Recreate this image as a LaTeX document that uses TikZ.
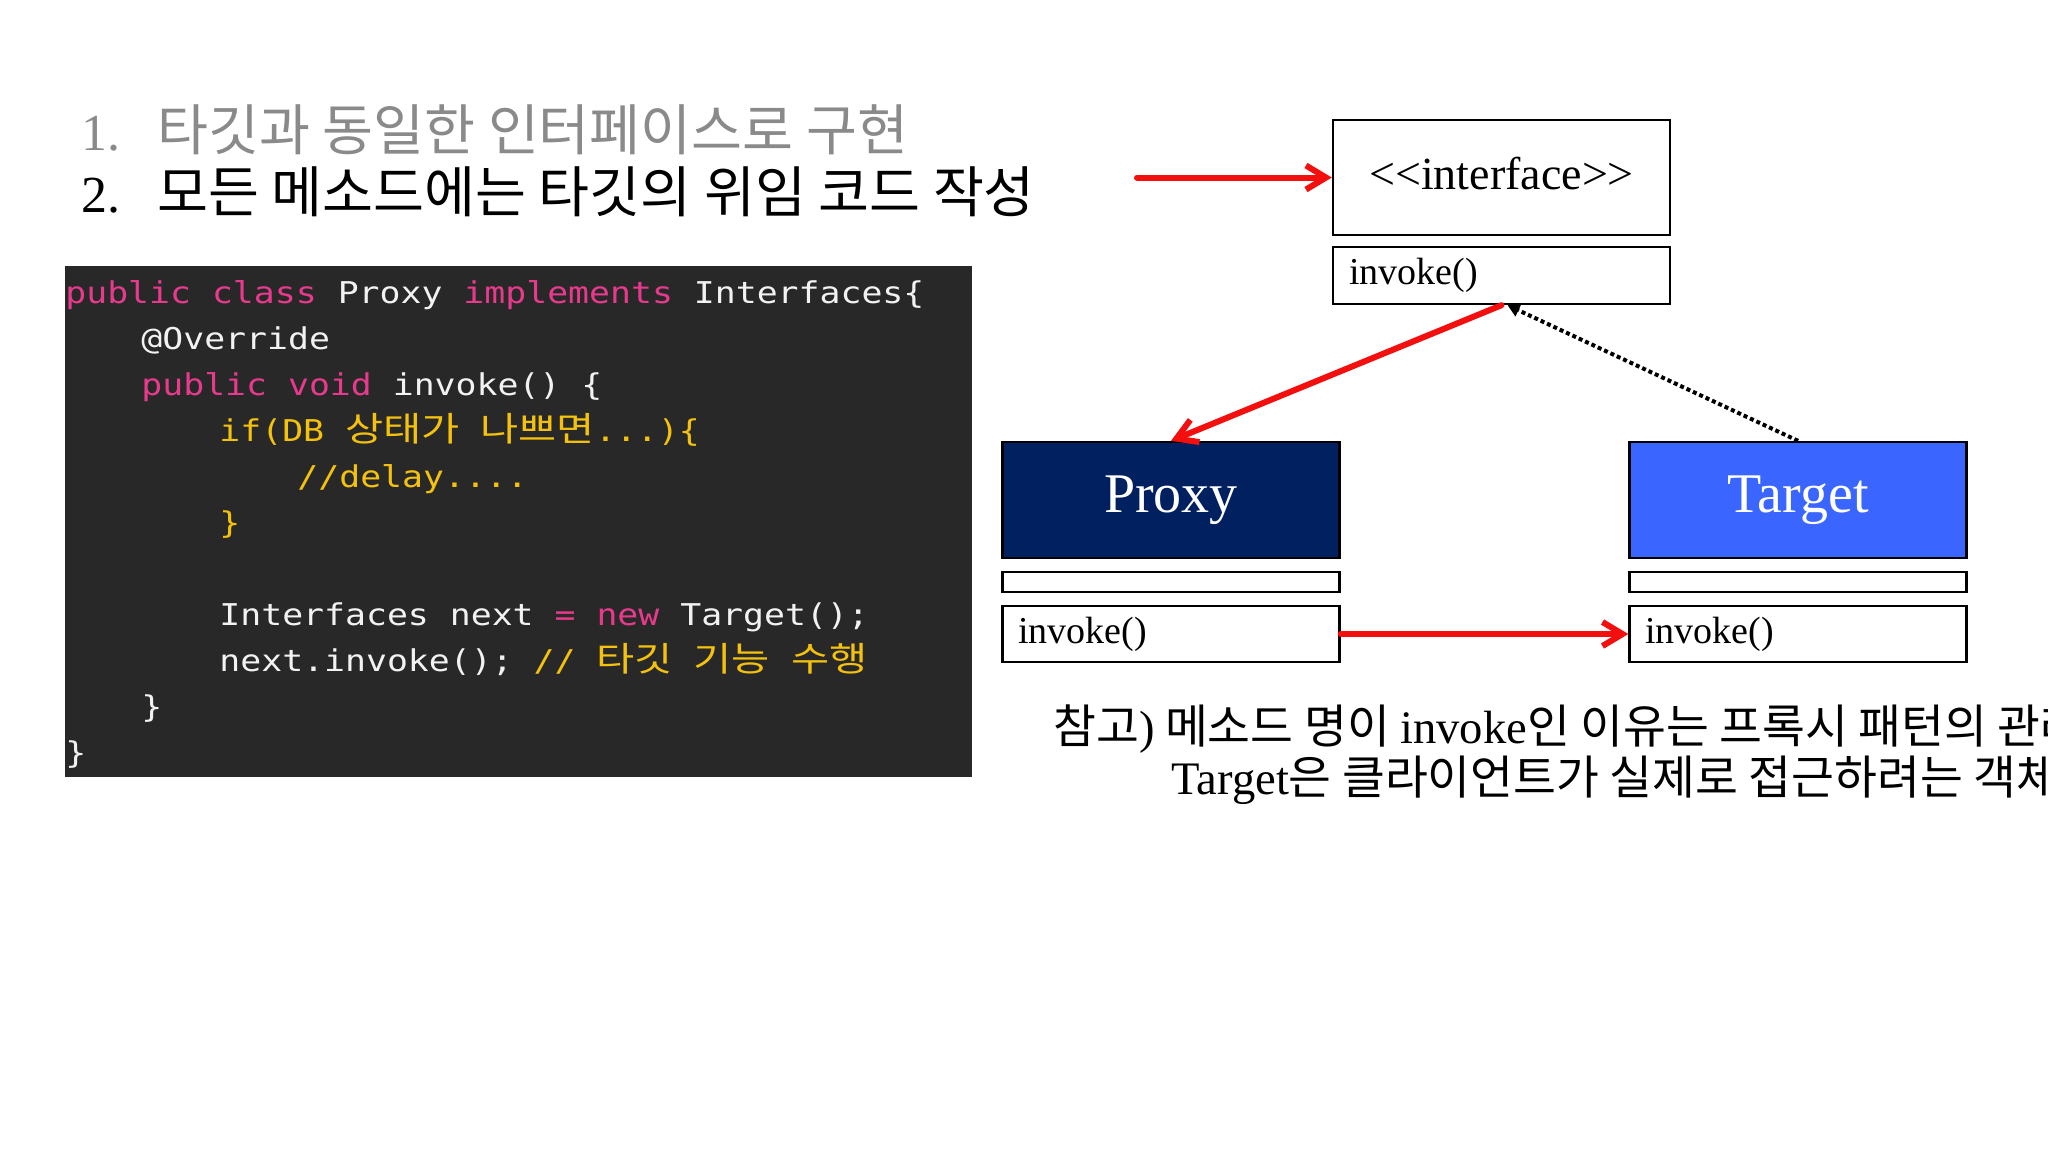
\documentclass[tikz,border=0pt]{standalone}
\usepackage{fontspec}
\setmainfont{Liberation Serif}
\newfontfamily\krfont{Noto Sans CJK KR}
\newfontfamily\codefont[FakeStretch=1.16]{DejaVu Sans Mono}
\newfontfamily\codekrfont[FakeStretch=1.22]{Noto Sans CJK KR}
\usetikzlibrary{arrows.meta}
\definecolor{codebg}{HTML}{282828}
\definecolor{codepink}{HTML}{E83A8D}
\definecolor{codeyellow}{HTML}{F4C20D}
\definecolor{codewhite}{HTML}{F2F2F2}
\definecolor{hdrgray}{HTML}{8A8A8A}
\definecolor{proxyblue}{HTML}{002060}
\definecolor{targetblue}{HTML}{3A66FF}
\definecolor{arrowred}{HTML}{F40F0F}
\newcommand\kwp[1]{\textcolor{codepink}{#1}}
\newcommand\ckr[1]{{\codekrfont\fontsize{17pt}{20pt}\selectfont #1}}
\begin{document}
\begin{tikzpicture}[x=0.5pt,y=-0.5pt,
  hdr/.style={anchor=base west, inner sep=0pt, font=\fontsize{26pt}{30pt}\selectfont},
  hdrkr/.style={anchor=base west, inner sep=0pt, font=\krfont\fontsize{27.7pt}{32pt}\selectfont},
  codeline/.style={anchor=base west, inner sep=0pt, text=codewhite, font=\codefont\fontsize{15pt}{18pt}\selectfont},
  umlbox/.style={draw=black, line width=1.2pt, fill=white, inner sep=0pt, minimum width=168.5pt},
  methlbl/.style={anchor=west, inner sep=0pt, font=\fontsize{19pt}{22pt}\selectfont},
  classlbl/.style={inner sep=0pt, text=white, font=\fontsize{28pt}{32pt}\selectfont},
  notekr/.style={anchor=base west, inner sep=0pt, font=\krfont\fontsize{23.3pt}{27pt}\selectfont},
  redarrow/.style={draw=arrowred, line width=3pt, line cap=round, line join=round, -{Straight Barb[length=10pt,width=12pt]}},
  dotarrow/.style={draw=black, line width=2pt, dash pattern=on 2pt off 1.5pt, -{Triangle[length=6pt,width=6.5pt]}}
]
\useasboundingbox (0,0) rectangle (2048,1152);
\fill[white] (0,0) rectangle (2048,1152);
\begin{scope}
\clip (0,0) rectangle (2048,1152);

% header
\node[hdr, text=hdrgray] (n1) at (81,150) {1.};
\node[hdrkr, text=hdrgray] (t1) at (157,150) {타깃과 동일한 인터페이스로 구현};
\node[hdr] (n2) at (81,212) {2.};
\node[hdrkr] (t2) at (157,212) {모든 메소드에는 타깃의 위임 코드 작성};

% code box
\node[fill=codebg, minimum width=453.5pt, minimum height=255.5pt, inner sep=0pt] (codebox) at (518.5,521.5) {};
\node[codeline] (c1) at (65,303) {\kwp{public class} Proxy \kwp{implements} Interfaces\{};
\node[codeline] (c2) at (141,349) {@Override};
\node[codeline] (c3) at (141,395) {\kwp{public void} invoke() \{};
\node[codeline, text=codeyellow] (c4) at (219,441) {if(DB \ckr{상태가} \ckr{나쁘면}...)\{};
\node[codeline, text=codeyellow] (c5) at (297,487) {//delay....};
\node[codeline, text=codeyellow] (c6) at (219,533) {\}};
\node[codeline] (c7) at (219,625) {Interfaces next \kwp{=} \kwp{new} Target();};
\node[codeline] (c8) at (219,671) {next.invoke(); \textcolor{codeyellow}{// \ckr{타깃} \ckr{기능} \ckr{수행}}};
\node[codeline] (c9) at (141,717) {\}};
\node[codeline] (c10) at (65,763) {\}};

% UML boxes
\node[umlbox, minimum height=57.5pt] (iface) at (1501.5,177.5) {};
\node[inner sep=0pt, font=\fontsize{23pt}{27pt}\selectfont] (ifacelbl) at (1501.5,174) {<{}<interface>{}>};
\node[umlbox, minimum height=28.5pt] (imeth) at (1501.5,275.5) {};
\node[methlbl] (imethlbl) at (1349,275.5) {invoke()};

\node[umlbox, fill=proxyblue, minimum height=58pt] (proxy) at (1171,500) {};
\node[classlbl] (proxylbl) at (1171,500) {Proxy};
\node[umlbox, minimum height=10pt] (pempty) at (1171,582) {};
\node[umlbox, minimum height=28pt] (pmeth) at (1171,634) {};
\node[methlbl] (pmethlbl) at (1018,634) {invoke()};

\node[umlbox, fill=targetblue, minimum height=58pt] (target) at (1798,500) {};
\node[classlbl] (targetlbl) at (1798,500) {Target};
\node[umlbox, minimum height=10pt] (tempty) at (1798,582) {};
\node[umlbox, minimum height=28pt] (tmeth) at (1798,634) {};
\node[methlbl] (tmethlbl) at (1645,634) {invoke()};

% connectors
\coordinate (a1start) at (1137,177.5);
\draw[redarrow] (a1start) -- (iface.west);
\draw[redarrow] (imeth.south) -- (proxy.north);
\draw[redarrow] (pmeth.east) -- (tmeth.west);
\draw[dotarrow] (target.north) -- ([xshift=3pt]imeth.south);

% note
\node[notekr] (note1) at (1053,743) {참고{\rmfamily )} 메소드 명이 {\rmfamily invoke}인 이유는 프록시 패턴의 관례};
\node[notekr] (note2) at (1171,794) {{\rmfamily Target}은 클라이언트가 실제로 접근하려는 객체};
\end{scope}
\end{tikzpicture}
\end{document}
